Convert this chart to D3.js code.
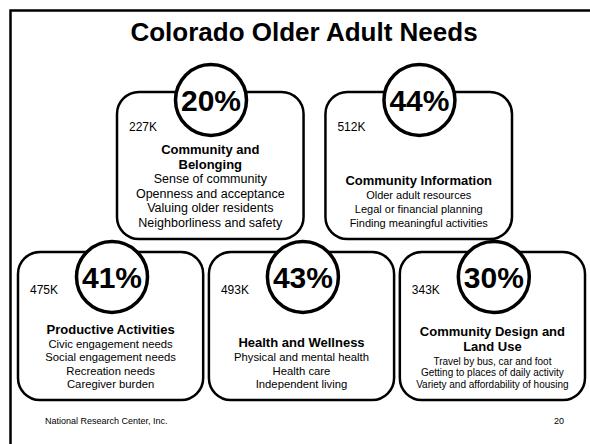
<!DOCTYPE html>
<html>
<head>
<meta charset="utf-8">
<script src="https://cdn.jsdelivr.net/npm/d3@7"></script>
<style>
  html, body { margin: 0; padding: 0; background: #fff; }
  svg { display: block; font-family: "Liberation Sans", Arial, sans-serif; }
</style>
</head>
<body>
<svg id="chart" width="590" height="444"></svg>
<script>
// ---- data ----
const chartTitle = "Colorado Older Adult Needs";
const categories = [
  ["Community and", "Belonging"],
  ["Community Information"],
  ["Productive Activities"],
  ["Health and Wellness"],
  ["Community Design and", "Land Use"]
];
const percents = [20, 44, 41, 43, 30];
const counts = ["227K", "512K", "475K", "493K", "343K"];
const items = [
  ["Sense of community", "Openness and acceptance", "Valuing older residents", "Neighborliness and safety"],
  ["Older adult resources", "Legal or financial planning", "Finding meaningful activities"],
  ["Civic engagement needs", "Social engagement needs", "Recreation needs", "Caregiver burden"],
  ["Physical and mental health", "Health care", "Independent living"],
  ["Travel by bus, car and foot", "Getting to places of daily activity", "Variety and affordability of housing"]
];
const rowOf = [0, 0, 1, 1, 1];
const footerLeft = "National Research Center, Inc.";
const footerRight = "20";

// ---- layout ----
const svg = d3.select("#chart");
const rows = [
  { x: d3.scaleBand().domain([0, 1]).range([117, 512]).paddingInner(0.105), top: 92, bottom: 239, cy: 100, countDy: 39 },
  { x: d3.scaleBand().domain([2, 3, 4]).range([18, 585]).paddingInner(0.03), top: 252, bottom: 400, cy: 277, countDy: 42 }
];
// per-box text fitting (font size of item lines, line spacing)
const itemStyle = [
  { size: 12.5, lh: 14.7 },
  { size: 11, lh: 14 },
  { size: 11.3, lh: 13.5 },
  { size: 11.3, lh: 13.5 },
  { size: 10, lh: 11.6 }
];
const pctScale = d3.scaleLinear().domain([0, 100]).range([0, 100]);

// frame
svg.append("rect")
  .attr("x", 10.5).attr("y", 10.5).attr("width", 620).attr("height", 500)
  .attr("fill", "none").attr("stroke", "#000").attr("stroke-width", 2.5);

svg.append("text")
  .attr("x", 304).attr("y", 41)
  .attr("text-anchor", "middle")
  .attr("font-size", 26).attr("font-weight", "bold")
  .text(chartTitle);

const boxes = percents.map((p, i) => {
  const r = rows[rowOf[i]];
  return { i, p, x: r.x(i), w: r.x.bandwidth(), top: r.top, bottom: r.bottom, cy: r.cy, countDy: r.countDy };
});

const g = svg.selectAll("g.box").data(boxes).join("g").attr("class", "box");

g.append("rect")
  .attr("x", d => d.x).attr("y", d => d.top)
  .attr("width", d => d.w).attr("height", d => d.bottom - d.top)
  .attr("rx", 22).attr("ry", 22)
  .attr("fill", "#fff").attr("stroke", "#000").attr("stroke-width", 2.5);

g.append("circle")
  .attr("cx", d => d.x + 94).attr("cy", d => d.cy).attr("r", 35.5)
  .attr("fill", "#fff").attr("stroke", "#000").attr("stroke-width", 3.5);

g.append("text")
  .attr("x", d => d.x + 94).attr("y", d => d.cy + 11)
  .attr("text-anchor", "middle")
  .attr("font-size", 30).attr("font-weight", "bold")
  .text(d => Math.round(pctScale(d.p)) + "%");

g.append("text")
  .attr("x", d => d.x + 12).attr("y", d => d.top + d.countDy)
  .attr("font-size", 12)
  .text(d => counts[d.i]);

g.each(function(d) {
  const sel = d3.select(this);
  const st = itemStyle[d.i];
  const cx = d.x + d.w / 2;
  const its = items[d.i];
  const last = d.bottom - 12;
  its.forEach((t, k) => {
    sel.append("text")
      .attr("x", cx).attr("y", last - (its.length - 1 - k) * st.lh)
      .attr("text-anchor", "middle").attr("font-size", st.size)
      .text(t);
  });
  const firstItem = last - (its.length - 1) * st.lh;
  const heads = categories[d.i];
  heads.forEach((t, k) => {
    sel.append("text")
      .attr("x", cx).attr("y", firstItem - 14 - (heads.length - 1 - k) * 15)
      .attr("text-anchor", "middle").attr("font-size", 13).attr("font-weight", "bold")
      .text(t);
  });
});

svg.append("text").attr("x", 45).attr("y", 424).attr("font-size", 9).text(footerLeft);
svg.append("text").attr("x", 564).attr("y", 424).attr("text-anchor", "end").attr("font-size", 9).text(footerRight);
</script>
</body>
</html>
